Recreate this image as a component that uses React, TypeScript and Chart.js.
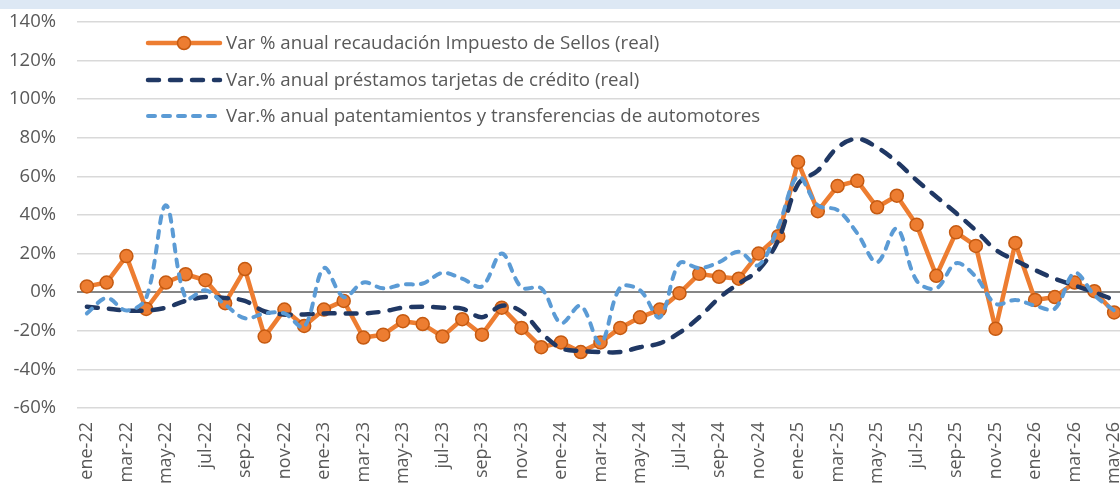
import React, { useEffect, useRef } from 'react';
import { Chart, registerables } from 'chart.js';

Chart.register(...registerables);

const categories = [
  'ene-22', 'feb-22', 'mar-22', 'abr-22', 'may-22', 'jun-22', 'jul-22', 'ago-22', 'sep-22', 'oct-22', 'nov-22', 'dic-22',
  'ene-23', 'feb-23', 'mar-23', 'abr-23', 'may-23', 'jun-23', 'jul-23', 'ago-23', 'sep-23', 'oct-23', 'nov-23', 'dic-23',
  'ene-24', 'feb-24', 'mar-24', 'abr-24', 'may-24', 'jun-24', 'jul-24', 'ago-24', 'sep-24', 'oct-24', 'nov-24', 'dic-24',
  'ene-25', 'feb-25', 'mar-25', 'abr-25', 'may-25', 'jun-25', 'jul-25', 'ago-25', 'sep-25', 'oct-25', 'nov-25', 'dic-25',
  'ene-26', 'feb-26', 'mar-26', 'abr-26', 'may-26',
];

const sellos = [
  3, 5, 18.7, -8.7, 5, 9.3, 6.2, -5.7, 12, -23, -9, -17.5,
  -9, -4.5, -23.5, -22, -15, -16.5, -23, -14, -22, -8, -18.5, -28.5,
  -26, -31, -26, -18.5, -13, -9, -0.5, 9.5, 8, 7, 20, 29,
  67.5, 42, 55, 57.7, 44, 50, 35, 8.5, 31, 24, -19, 25.5,
  -4, -2.5, 5, 0.5, -10.5,
];

const tarjetas = [
  -7.5, -8.5, -9.5, -9.5, -8, -4.5, -2.5, -3, -4.5, -10, -11.5, -11.5,
  -11, -11, -11, -10, -8, -7.5, -8, -8.5, -13, -7, -10, -21,
  -29, -30.5, -31, -31, -28.5, -26.5, -21, -13, -3, 4.5, 11.5, 27,
  56, 63, 75, 79.5, 75, 67.5, 58, 49.5, 41, 32, 22, 16.5,
  11.5, 7, 3.5, 0, -4,
];

const automotores = [
  -11, -3, -9.5, -3, 45, -3, 1, -6.5, -13.5, -11, -11, -18,
  12.5, -2.5, 5, 2, 4, 4.5, 10, 7, 3, 20, 2.5, 2,
  -16, -7, -26.5, 2.5, 1, -13, 15, 12.5, 15.5, 21, 14, 34,
  60, 45, 42.5, 30.5, 15.5, 33, 6, 2, 15, 8, -6, -4,
  -7, -8.5, 10, -1.5, -9.5,
];

const seriesLabels = [
  'Var % anual recaudación Impuesto de Sellos (real)',
  'Var.% anual préstamos tarjetas de crédito (real)',
  'Var.% anual patentamientos y transferencias de automotores',
];

const Y_MIN = -60;
const Y_MAX = 140;
const Y_STEP = 20;

const FONT = "'Open Sans', 'DejaVu Sans', sans-serif";
const TEXT = '#595959';

export default function App() {
  const ref = useRef<HTMLCanvasElement>(null);

  useEffect(() => {
    if (!ref.current) return;

    const legendPlugin = {
      id: 'customLegend',
      afterDraw(chart: any) {
        const ctx = chart.ctx as CanvasRenderingContext2D;
        const rows = [43, 80, 116];
        const x0 = 148;
        const x1 = 220;
        const tx = 226;
        ctx.save();
        chart.data.datasets.forEach((ds: any, i: number) => {
          const y = rows[i];
          ctx.beginPath();
          ctx.strokeStyle = ds.borderColor;
          ctx.lineWidth = ds.borderWidth;
          ctx.setLineDash(ds.borderDash || []);
          ctx.lineCap = ds.borderCapStyle || 'butt';
          ctx.moveTo(x0, y);
          ctx.lineTo(x1, y);
          ctx.stroke();
          ctx.setLineDash([]);
          if (ds.pointRadius > 0) {
            ctx.beginPath();
            ctx.arc((x0 + x1) / 2, y, ds.pointRadius, 0, Math.PI * 2);
            ctx.fillStyle = ds.pointBackgroundColor;
            ctx.fill();
            ctx.lineWidth = ds.pointBorderWidth;
            ctx.strokeStyle = ds.pointBorderColor;
            ctx.stroke();
          }
          ctx.fillStyle = TEXT;
          ctx.font = `18.7px ${FONT}`;
          ctx.textBaseline = 'middle';
          ctx.textAlign = 'left';
          ctx.fillText(ds.label, tx, y + 1);
        });
        ctx.restore();
      },
    };

    const chart = new Chart(ref.current, {
      type: 'line',
      data: {
        labels: categories,
        datasets: [
          {
            label: seriesLabels[0],
            data: sellos,
            borderColor: '#ED7D31',
            backgroundColor: '#ED7D31',
            borderWidth: 4.5,
            tension: 0,
            pointRadius: 6.5,
            pointBackgroundColor: '#ED7D31',
            pointBorderColor: '#C55A11',
            pointBorderWidth: 1.5,
            borderCapStyle: 'round',
            borderJoinStyle: 'round',
            order: 3,
          },
          {
            label: seriesLabels[1],
            data: tarjetas,
            borderColor: '#203864',
            backgroundColor: '#203864',
            borderWidth: 4.5,
            borderDash: [11, 11],
            borderCapStyle: 'round',
            tension: 0.35,
            pointRadius: 0,
            order: 2,
          },
          {
            label: seriesLabels[2],
            data: automotores,
            borderColor: '#5B9BD5',
            backgroundColor: '#5B9BD5',
            borderWidth: 4,
            borderDash: [7, 8],
            borderCapStyle: 'round',
            tension: 0.35,
            pointRadius: 0,
            order: 1,
          },
        ] as any,
      },
      options: {
        animation: false,
        responsive: false,
        devicePixelRatio: 1,
        layout: { padding: { top: 22, left: 0, right: 0, bottom: 0 } },
        plugins: {
          legend: { display: false },
          tooltip: { enabled: false },
        },
        scales: {
          x: {
            type: 'category',
            offset: true,
            grid: { display: false, drawTicks: false },
            border: { display: false },
            ticks: {
              autoSkip: false,
              maxRotation: 90,
              minRotation: 90,
              padding: 14,
              color: TEXT,
              font: { family: FONT, size: 18 },
              callback: (_v: any, i: number) => (i % 2 === 0 ? categories[i] : ''),
            },
            afterFit: (s: any) => {
              s.height = 75;
              s.paddingLeft = 0;
              s.paddingRight = 0;
              s.paddingTop = 0;
              s.paddingBottom = 0;
            },
          },
          y: {
            min: Y_MIN,
            max: Y_MAX,
            ticks: {
              stepSize: Y_STEP,
              padding: 21,
              color: TEXT,
              font: { family: FONT, size: 18.5 },
              callback: (v: any) => `${v}%`,
            },
            grid: {
              drawTicks: false,
              color: (c: any) => (c.tick && c.tick.value === 0 ? '#868686' : '#D9D9D9'),
              lineWidth: (c: any) => (c.tick && c.tick.value === 0 ? 2 : 1.5),
            },
            border: { display: false },
            afterFit: (s: any) => {
              s.width = 77;
              s.paddingLeft = 0;
              s.paddingRight = 0;
              s.paddingTop = 0;
              s.paddingBottom = 0;
            },
          },
        },
      },
      plugins: [legendPlugin],
    } as any);

    return () => chart.destroy();
  }, []);

  return (
    <div
      style={{
        position: 'absolute',
        top: 0,
        left: 0,
        width: 1120,
        height: 483,
        overflow: 'hidden',
        background: '#ffffff',
      }}
    >
      <div style={{ position: 'absolute', top: 0, left: 0, width: 1120, height: 9, background: '#DDE8F4' }} />
      <canvas ref={ref} width={1132} height={483} style={{ position: 'absolute', top: 0, left: 0 }} />
    </div>
  );
}
